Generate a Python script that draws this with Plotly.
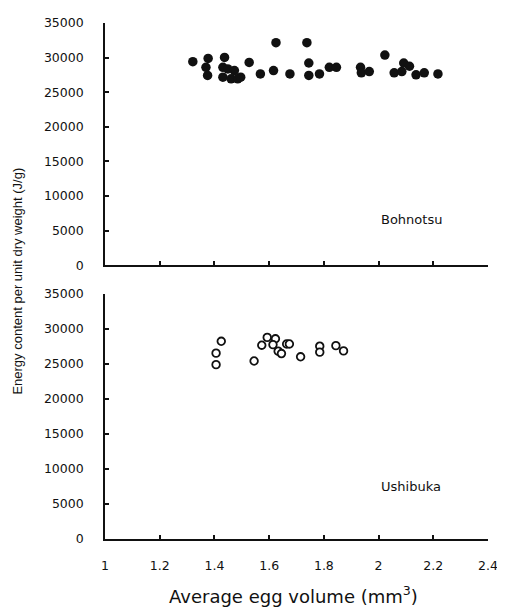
import plotly.graph_objects as go

# Bohnotsu (filled circles)
boh_volume = [1.321, 1.377, 1.369, 1.375, 1.437, 1.431, 1.431, 1.449, 1.461, 1.473,
              1.485, 1.496, 1.527, 1.568, 1.616, 1.625, 1.676, 1.738, 1.745, 1.745,
              1.784, 1.820, 1.846, 1.934, 1.937, 1.966, 2.023, 2.057, 2.085, 2.092,
              2.113, 2.137, 2.167, 2.217]
boh_energy = [29410, 29880, 28600, 27420, 30030, 28600, 27180, 28360, 26940, 28130,
              26940, 27180, 29310, 27650, 28130, 32160, 27650, 32160, 29220, 27420,
              27650, 28600, 28600, 28600, 27800, 27990, 30360, 27800, 27990, 29220,
              28750, 27510, 27800, 27650]

# Ushibuka (open circles)
ush_volume = [1.425, 1.406, 1.406, 1.545, 1.573, 1.593, 1.623, 1.614, 1.633, 1.645,
              1.664, 1.674, 1.715, 1.785, 1.785, 1.844, 1.872]
ush_energy = [28220, 26530, 24890, 25410, 27660, 28780, 28580, 27740, 26810, 26470,
              27840, 27840, 26010, 27520, 26670, 27600, 26850]

x_ticks = [1, 1.2, 1.4, 1.6, 1.8, 2, 2.2, 2.4]
y_ticks = [0, 5000, 10000, 15000, 20000, 25000, 30000, 35000]

FONT = "DejaVu Sans"
INK = "#111111"

fig = go.Figure()
fig.add_trace(go.Scatter(
    x=boh_volume, y=boh_energy, mode="markers", xaxis="x", yaxis="y",
    marker=dict(symbol="circle", size=9.5, color=INK, line=dict(width=0)),
    showlegend=False, hoverinfo="skip"))
fig.add_trace(go.Scatter(
    x=ush_volume, y=ush_energy, mode="markers", xaxis="x2", yaxis="y2",
    marker=dict(symbol="circle", size=7.6, color="white", line=dict(width=1.8, color=INK)),
    showlegend=False, hoverinfo="skip"))

common_x = dict(range=[1, 2.4], tickvals=x_ticks, ticks="inside", ticklen=4, tickwidth=1.5,
                tickcolor=INK, showline=True, linecolor=INK, linewidth=1.6,
                showgrid=False, zeroline=False, domain=[0, 1],
                tickfont=dict(family=FONT, size=12.5, color=INK))
common_y = dict(range=[0, 35000], tickvals=y_ticks, tickformat="d", ticks="inside",
                ticklen=4, tickwidth=1.5, tickcolor=INK, showline=True, linecolor=INK,
                linewidth=1.6, showgrid=False, zeroline=False,
                tickfont=dict(family=FONT, size=12.5, color=INK), ticklabelstandoff=17)

# page body has an 8px margin: size the figure so it fits the 505x610 window
fig.update_layout(
    width=497, height=602,
    margin=dict(l=97, r=10, t=7, b=71),
    paper_bgcolor="white", plot_bgcolor="white",
    xaxis=dict(**common_x, anchor="y", showticklabels=False),
    yaxis=dict(**common_y, anchor="x", domain=[0.5305, 1]),
    xaxis2=dict(**common_x, anchor="y2", showticklabels=True, ticklabelstandoff=14),
    yaxis2=dict(**common_y, anchor="x2", domain=[0, 0.4752]),
    annotations=[
        dict(text="Bohnotsu", x=2.0, y=6600, xref="x", yref="y", xanchor="left",
             yanchor="middle", showarrow=False, font=dict(family=FONT, size=13, color=INK)),
        dict(text="Ushibuka", x=2.0, y=7500, xref="x2", yref="y2", xanchor="left",
             yanchor="middle", showarrow=False, font=dict(family=FONT, size=13, color=INK)),
        dict(text="Energy content per unit dry weight (J/g)", x=-0.2308, y=0.5,
             xref="paper", yref="paper", xanchor="center", yanchor="middle",
             textangle=-90, showarrow=False,
             font=dict(family="Liberation Sans, Arial", size=13, color=INK)),
        dict(text="Average egg volume (mm<sup>3</sup>)", x=0.491, y=-0.1088,
             xref="paper", yref="paper", xanchor="center", yanchor="middle",
             showarrow=False, font=dict(family=FONT, size=18, color=INK)),
    ],
)

fig.write_html("out.html")
